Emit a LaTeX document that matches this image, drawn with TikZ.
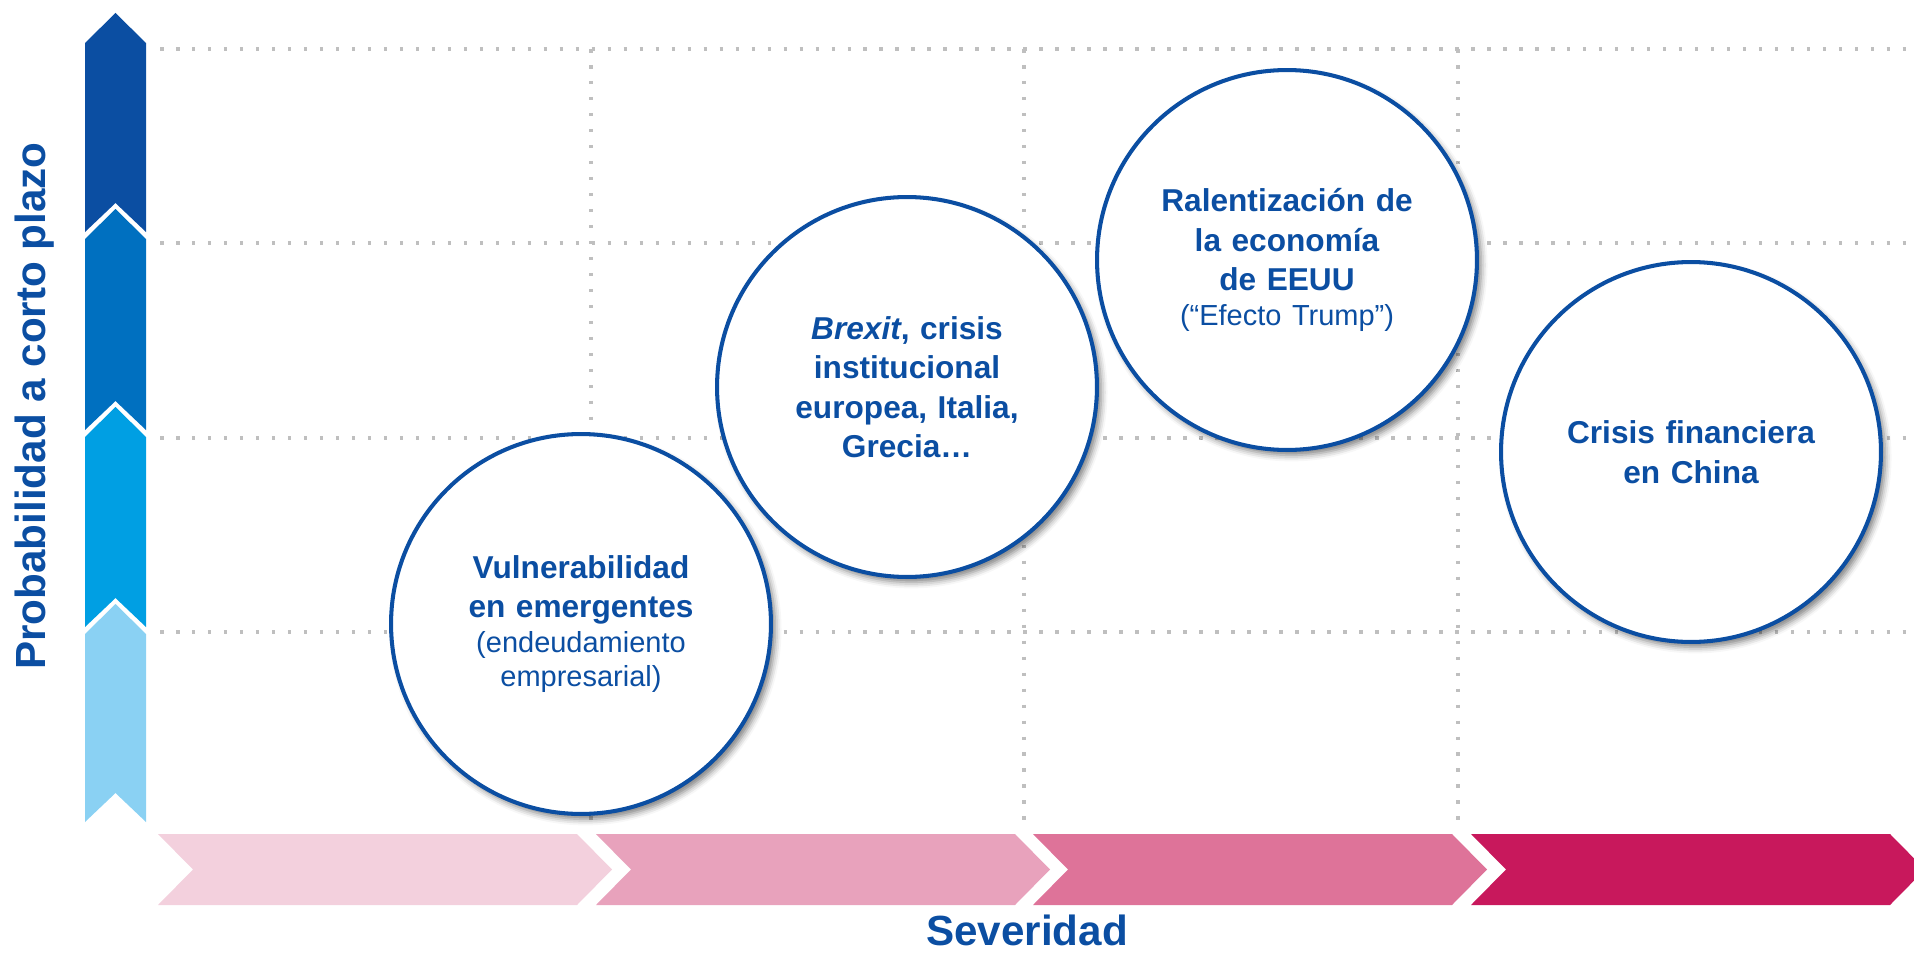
\documentclass[tikz,border=0pt]{standalone}
\usepackage{fontspec}
\setmainfont{Liberation Sans}
\usetikzlibrary{shadows.blur}
\definecolor{riskblue}{HTML}{0B4EA2}
\definecolor{probA}{HTML}{0B4EA2}
\definecolor{probB}{HTML}{0070C0}
\definecolor{probC}{HTML}{009FE3}
\definecolor{probD}{HTML}{8AD1F3}
\definecolor{sevA}{HTML}{F3D0DD}
\definecolor{sevB}{HTML}{E8A2BC}
\definecolor{sevC}{HTML}{DE7399}
\definecolor{sevD}{HTML}{C8185C}
\definecolor{dotgray}{HTML}{BFBFBF}
\newcommand{\lighttext}[1]{{\fontsize{16.5}{19.5}\selectfont\mdseries #1}}
\begin{document}
\begin{tikzpicture}[x = 0.02cm, y = -0.02cm,
	risk/.style = {circle, draw = riskblue, line width = 2.3pt, fill = white, minimum size = 7.6cm, text width = 5.6cm, align = center, text = riskblue, font = \fontsize{18}{22.5}\selectfont\bfseries, blur shadow = {shadow xshift = 2.5pt, shadow yshift = -3pt, shadow blur radius = 3.5pt, shadow opacity = 50}},
	dotline/.style = {draw = dotgray, line width = 2pt, dash pattern = on 2pt off 7.1pt},
	axis/.style = {text = riskblue, font = \fontsize{24}{28}\selectfont\bfseries}]
	\useasboundingbox (0,0) rectangle (1914,953);
	\clip (0,0) rectangle (1914,953);
	\draw[dotline] (160,  49) -- (1914,  49);
	\draw[dotline] (160, 243) -- (1914, 243);
	\draw[dotline] (160, 438) -- (1914, 438);
	\draw[dotline] (160, 632) -- (1914, 632);
	\draw[dotline] ( 591, 49) -- ( 591, 826);
	\draw[dotline] (1024, 49) -- (1024, 826);
	\draw[dotline] (1458, 49) -- (1458, 826);
	\fill[probA] (85,  43) -- (115.5,  13) -- (146,  43) -- (146, 232) -- (115.5, 203) -- (85, 232) -- cycle;
	\fill[probB] (85, 239) -- (115.5, 209) -- (146, 239) -- (146, 430) -- (115.5, 401) -- (85, 430) -- cycle;
	\fill[probC] (85, 437) -- (115.5, 407) -- (146, 437) -- (146, 627) -- (115.5, 598) -- (85, 627) -- cycle;
	\fill[probD] (85, 634) -- (115.5, 604) -- (146, 634) -- (146, 822) -- (115.5, 793) -- (85, 822) -- cycle;
	\fill[sevA] ( 158, 834) -- ( 577, 834) -- ( 612, 869.5) -- ( 577, 905) -- ( 158, 905) -- ( 193, 869.5) -- cycle;
	\fill[sevB] ( 596, 834) -- (1015, 834) -- (1050, 869.5) -- (1015, 905) -- ( 596, 905) -- ( 631, 869.5) -- cycle;
	\fill[sevC] (1033, 834) -- (1452, 834) -- (1487, 869.5) -- (1452, 905) -- (1033, 905) -- (1068, 869.5) -- cycle;
	\fill[sevD] (1471, 834) -- (1890, 834) -- (1925, 869.5) -- (1890, 905) -- (1471, 905) -- (1506, 869.5) -- cycle;
	\node (P) at (45, 406)	[axis, rotate = 90, anchor = base]	{Probabilidad a corto plazo};
	\node (S) at (1027, 945)	[axis, anchor = base]	{Severidad};
	\node (R1) at ( 581, 624)	[risk]	{Vulnerabilidad\\ en emergentes\\[-3pt] \lighttext{(endeudamiento}\\[-3pt] \lighttext{empresarial)}};
	\node (R2) at ( 907, 387)	[risk]	{\textit{Brexit}, crisis\\ institucional\\ europea, Italia,\\ Grecia…};
	\node (R3) at (1287, 260)	[risk]	{Ralentización de\\ la economía\\ de EEUU\\[-3pt] \lighttext{(“Efecto Trump”)}};
	\node (R4) at (1691, 452)	[risk]	{Crisis financiera\\ en China};
\end{tikzpicture}
\end{document}
